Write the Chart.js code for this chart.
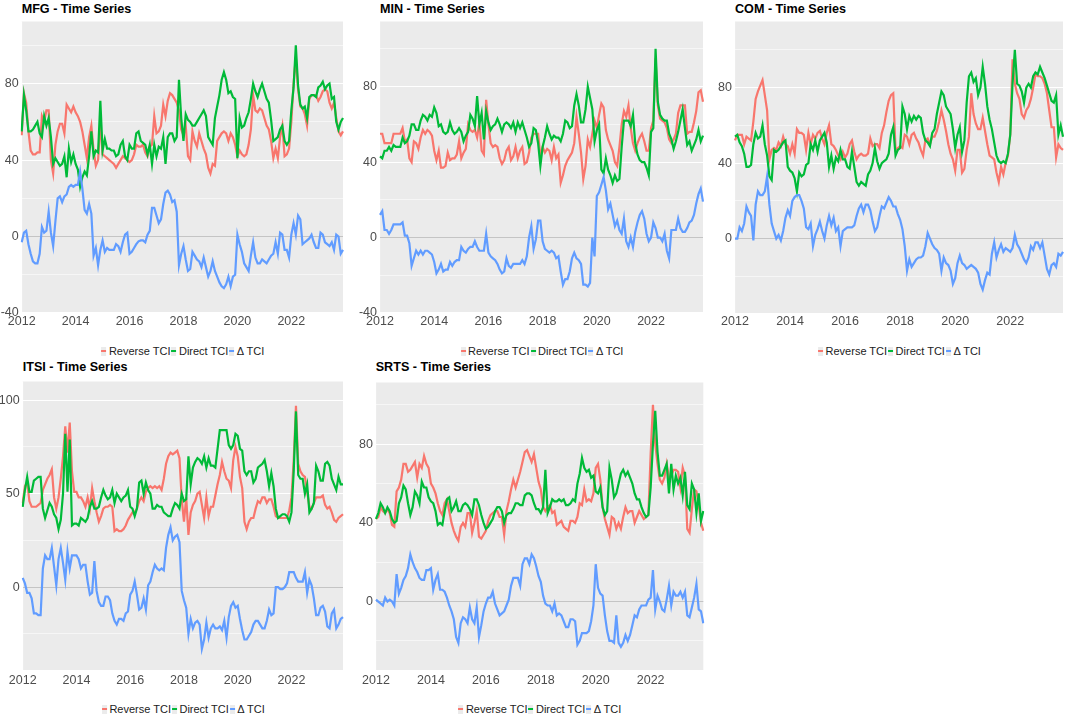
<!DOCTYPE html>
<html lang="en">
<head>
  <meta charset="UTF-8">
  <title>TCI Time Series</title>
  <script src="https://cdn.jsdelivr.net/npm/chart.js"></script>
  <style>
      body {
          margin: 0;
          background: #ffffff;
          font-family: "Liberation Sans", Arial, sans-serif;
      }
      #page { position: relative; width: 1065px; height: 717px; overflow: hidden; }
      .panel-title {
          position: absolute;
          font-size: 12.6px;
          font-weight: bold;
          line-height: 14px;
          color: #000;
          white-space: nowrap;
      }
      .chart-box { position: absolute; }
      .legend {
          position: absolute;
          display: flex;
          justify-content: center;
          align-items: center;
          font-size: 11px;
          color: #222;
          white-space: nowrap;
          transform: translate(-50%, -50%);
      }
      .legend .key {
          display: inline-block;
          width: 5px;
          height: 9px;
          background: #EBEBEB;
          position: relative;
          margin-right: 2.5px;
          margin-left: 1px;
      }
      .legend .key i {
          position: absolute;
          left: 0; right: 0; top: 3.5px;
          height: 2px;
      }
  </style>
</head>
<body>
<div id="page"></div>
<script>
  // months 2012-01 .. 2023-12
  var years = [2012, 2013, 2014, 2015, 2016, 2017, 2018, 2019, 2020, 2021, 2022, 2023];
  var monthNums = ['01','02','03','04','05','06','07','08','09','10','11','12'];
  var months = years.flatMap(y => monthNums.map(m => y + '-' + m));

  var seriesNames = ['Reverse TCI', 'Direct TCI', '\u0394 TCI'];
  var seriesColors = ['#F8766D', '#00BA38', '#619CFF'];

  // ---- MFG ----
  var mfgReverse = [
    53,75,70,55,45,43,43,44,44,63,60,66,
    66,40,33,48,55,59,59,54,69,67,65,68,
    65,63,60,55,48,41,52,58,45,37,40,60,
    43,42,41,40,39,38,36,38,40,42,41,40,
    39,40,43,48,47,47,48,44,42,47,48,63,
    54,55,58,69,63,71,75,74,72,70,66,56,
    53,58,42,40,55,50,47,54,50,46,43,36,
    33,38,37,50,52,54,55,54,50,54,52,48,
    42,45,43,42,43,48,56,74,66,65,67,66,
    62,58,56,50,41,46,41,52,58,42,43,46,
    60,80,94,77,68,67,64,58,72,74,74,74,
    71,73,76,77,76,70,67,70,62,55,53,55
  ];
  var mfgDirect = [
    55,74,66,55,55,56,58,60,54,52,63,58,
    62,52,38,41,39,37,38,42,31,46,39,43,
    38,35,26,31,34,32,42,55,42,45,44,71,
    45,51,46,46,45,45,42,43,48,50,42,40,
    48,46,46,54,55,50,49,48,43,48,38,48,
    42,47,46,52,38,52,54,54,50,52,82,62,
    50,64,61,60,58,58,60,62,64,66,63,52,
    50,48,62,68,74,82,86,82,75,76,73,72,
    41,62,57,58,62,65,72,80,76,73,77,80,
    76,72,70,61,50,51,52,56,58,50,48,50,
    66,78,100,79,69,67,68,62,73,74,74,73,
    78,79,81,77,79,80,72,73,60,56,60,62
  ];
  var mfgDelta = [
    -3,2,3,-4,-9,-13,-14,-14,-9,5,2,3,
    13,2,-5,8,20,21,18,21,22,26,27,26,
    27,27,34,25,14,12,17,12,-10,-6,-15,-7,
    -2,-8,-6,-7,-7,-7,-4,-5,-8,-3,1,2,
    -9,-8,-6,-4,-2.5,-2,-2,-3,1,3,15,15,
    11,7,9,17,23,24,22,18,19,13,-15,-9,
    -5,-12,-18,-17,-8,-10,-12,-13,-16,-11,-16,-21,
    -18,-13,-18,-21,-24,-26,-27,-25,-21,-26,-21,-20,
    1,-4,-8,-14,-16,-18,-10,-3,-11,-14,-14,-12,
    -13,-14,-12,-10,-9,-3,-9,2,1,-7,-7,-11,
    1,7,1,11,9,-4,-3,-2,-1,1,-3,-6,
    -6,2,1,-3,-4,-5,-3,-7,1,0,-9,-7
  ];

  // ---- MIN ----
  var minReverse = [
    55,55,50,50,50,50,55,55,55,55,58,51,
    52,42,40,51,50,47,53,57,55,57,56,54,
    46,41,46,37,37,38,45,41,42,42,44,51,
    42,45,47,60,57,56,57,53,61,46,44,73,
    60,50,48,49,48,42,39,41,46,48,41,43,
    48,42,46,48,39,40,45,53,55,55,55,43,
    48,45,47,46,41,48,42,44,29,33,38,41,
    43,45,50,64,55,45,31,38,52,48,55,62,
    58,65,71,69,57,52,49,46,40,38,48,60,
    67,64,70,58,50,46,50,53,55,51,46,46,
    58,62,95,70,63,62,61,58,52,50,52,55,
    66,70,70,70,55,56,56,61,67,77,78,72
  ];
  var minDirect = [
    43,42,46,46,48,46,49,48,48,48,53,50,
    51,54,60,60,57,57,62,65,64,62,65,64,
    69,66,59,60,56,55,56,61,57,55,56,58,
    56,51,54,56,65,63,59,75,60,66,52,67,
    61,57,59,60,63,60,56,60,61,60,58,61,
    56,61,58,61,57,53,48,50,58,57,50,38,
    48,53,59,55,52,54,53,53,51,55,62,61,
    58,59,70,76,70,61,61,68,80,74,68,51,
    57,60,36,34,42,36,33,29,33,30,31,48,
    62,62,62,59,65,50,44,41,40,40,37,33,
    56,58,100,72,65,63,62,62,55,52,47,51,
    56,62,68,58,49,51,46,49,52,57,51,54
  ];
  var minDelta = [
    12,14,4,4,2,4,7,7,7,7,8,1,
    1,-3,-15,-11,-7,-9,-7,-9,-7,-7,-8,-9,
    -13,-19,-17,-14,-18,-17,-17,-13,-15,-13,-12,-12,
    -5,-7,-8,-6,-5,-5,-2,-5,-7,-7,-7,2,
    -8,-10,-11,-12,-14,-17,-19,-18,-11,-15,-16,-14,
    -14,-14,-14,-12,-14,-10,0,6,-6,-1,9,9,
    -2,-6,-7,-8,-7,-8,-11,-10,-18,-25,-22,-22,
    -18,-11,-8,-11,-12,-14,-25,-25,-26,-24,0,-10,
    22,24,28,32,25,15,18,12,6,9,4,2,
    10,-2,-5,0,-5,3,8,12,14,10,2,-2,
    0,8,5,0,0,-2,2,-7,-11,4,4,4,
    10,5,3,3,5,8,9,12,18,23,26,19
  ];

  // ---- COM ----
  var comReverse = [
    52,55,55,55,50,54,53,52,62,74,78,81,
    84,76,68,42,47,48,47,51,49,54,50,49,
    45,50,45,58,56,56,55,47,56,50,55,53,
    56,57,53,50,56,60,50,49,47,44,42,46,
    43,45,50,52,46,42,44,45,44,44,45,53,
    49,50,50,48,56,60,67,73,76,77,47,48,
    49,48,55,54,50,55,56,53,51,47,44,52,
    53,50,54,54,57,62,68,63,57,50,45,42,
    36,47,47,35,37,47,54,77,66,61,58,58,
    64,57,50,44,43,42,35,30,38,34,40,44,
    55,95,82,77,74,66,64,68,70,74,80,87,
    86,86,85,82,77,68,59,59,43,50,48,47
  ];
  var comDirect = [
    54,55,51,49,45,38,38,39,50,56,53,54,
    60,50,44,33,31,47,46,47,49,51,52,38,
    36,35,32,25,35,33,34,39,40,50,47,52,
    46,52,54,56,51,38,44,37,43,41,47,42,
    42,38,37,46,38,30,28,30,29,28,34,36,
    40,48,41,37,40,41,42,45,55,59,44,47,
    48,70,66,58,65,62,65,63,65,64,56,52,
    51,49,56,58,66,72,78,76,70,68,66,58,
    48,55,59,46,52,72,86,88,83,85,76,80,
    91,82,70,63,58,51,44,41,40,41,40,45,
    55,82,100,82,81,78,72,80,82,80,86,88,
    87,91,88,85,81,77,73,72,76,55,60,54
  ];
  var comDelta = [
    0,0,6,4,8,17,14,12,-1,18,25,23,
    23,25,33,18,8,4,0,2,-1,4,11,15,
    12,20,22,23,23,20,16,6,5,8,-4,2,
    5,9,4,0,7,12,7,11,4,6,-4,4,
    5,6,6,6,7,12,16,18,14,18,18,15,
    9,4,6,12,17,16,19,22,20,17,17,13,
    10,5,-4,-17,-11,-15,-13,-11,-10,-10,-9,-4,
    3,0,-3,-5,-6,-8,-17,-10,-13,-14,-17,-24,
    -21,-13,-9,-13,-14,-16,-15,-14,-15,-16,-18,-24,
    -27,-22,-18,-19,-8,-2,-10,-6,-3,-7,-5,-6,
    -7,-5,2,-3,-5,-8,-11,-13,-10,-4,-6,-2,
    -2,-5,-2,-9,-16,-19,-14,-13,-15,-8,-9,-7
  ];

  // ---- ITSI ----
  var itsiReverse = [
    45,54,56,46,43,43,43,44,45,52,55,58,
    60,63,48,42,48,58,70,86,72,88,62,51,
    51,48,48,46,43,48,42,53,46,40,35,38,
    42,43,43,44,43,30,31,30,30,31,33,36,
    38,40,40,42,46,48,46,51,53,54,53,54,
    53,54,52,58,66,70,72,71,72,73,69,47,
    35,48,28,40,44,46,50,51,44,37,48,38,
    43,43,49,55,60,67,62,58,57,53,68,75,
    70,59,53,35,31,35,37,37,42,46,45,48,
    48,45,47,47,43,38,37,37,37,37,37,41,
    48,68,97,66,62,60,59,51,43,42,45,48,
    48,48,49,44,42,43,40,36,35,37,38,39
  ];
  var itsiDirect = [
    43,52,59,51,51,57,58,59,59,42,37,41,
    45,43,39,37,31,36,50,82,51,79,33,34,
    34,33,37,36,35,37,43,46,42,42,43,48,
    52,49,47,48,52,45,50,48,46,48,49,52,
    43,42,38,42,56,57,50,56,52,50,42,42,
    44,43,43,40,39,38,38,42,45,44,42,50,
    46,47,70,55,64,67,69,68,66,70,64,69,
    65,65,64,74,84,84,84,84,76,74,76,82,
    81,74,73,62,60,62,62,56,58,64,65,66,
    68,62,54,61,54,42,37,38,39,39,38,35,
    40,62,94,60,58,58,50,55,40,42,45,65,
    62,57,57,66,67,65,58,55,52,59,55,55
  ];
  var itsiDelta = [
    5,2,-3,-3,-6,-14,-14,-15,-15,10,17,15,
    15,21,11,1,15,21,13,4,19,10,17,17,
    17,15,10,12,12,3,-4,-3,14,-2,-8,-10,
    -10,-5,-5,-7,-14,-18,-20,-17,-17,-18,-14,-13,
    -4,-2,3,-4,-12,-11,-6,-12,1,3,8,12,
    10,9,10,9,21,28,32,25,27,28,24,-2,
    -7,-11,-25,-17,-22,-19,-18,-20,-33,-28,-19,-27,
    -22,-20,-22,-22,-21,-23,-18,-27,-16,-10,-8,-11,
    -10,-17,-23,-28,-28,-26,-24,-20,-18,-18,-20,-22,
    -22,-18,-12,-15,-14,0,0,-1,-1,0,2,8,
    8,8,5,3,3,3,8,-3,4,1,-6,-15,
    -15,-11,-10,-13,-21,-22,-14,-12,-22,-20,-17,-16
  ];

  // ---- SRTS ----
  var srtsReverse = [
    42,43,48,46,45,47,45,39,38,56,58,62,
    70,70,66,67,69,71,63,70,68,74,70,68,
    60,58,55,50,46,44,50,52,46,40,36,33,
    31,38,40,38,45,45,35,40,46,33,32,34,
    36,41,44,45,46,46,43,43,34,46,51,57,
    62,58,62,66,71,76,77,74,71,75,68,61,
    57,48,46,48,49,45,46,39,40,41,38,37,
    36,41,41,40,43,50,49,57,51,52,51,55,
    68,70,62,48,42,38,34,43,42,37,40,37,
    43,48,45,46,46,40,43,46,44,42,43,44,
    75,100,80,70,62,60,63,70,63,64,67,67,
    66,58,68,64,37,35,47,57,56,49,40,36
  ];
  var srtsDirect = [
    42,45,50,48,45,48,46,42,40,41,50,53,
    59,57,50,44,48,56,54,50,61,58,58,53,
    51,50,46,39,40,39,46,52,53,46,48,51,
    46,46,49,50,49,47,44,52,52,49,44,40,
    37,38,40,42,46,48,48,46,40,44,45,45,
    47,50,50,49,49,54,55,55,54,50,47,47,
    45,48,67,45,48,52,51,51,52,51,52,49,
    49,50,52,51,60,65,73,68,66,67,63,64,
    56,55,58,48,44,46,68,62,53,55,60,65,
    67,64,66,63,60,55,52,52,48,45,43,44,
    58,80,97,76,64,64,67,70,55,70,57,64,
    60,63,54,66,49,47,60,57,45,55,41,46
  ];
  var srtsDelta = [
    1,0,-1,-2,2,0,1,0,-2,14,4,7,
    11,13,17,24,20,17,15,12,11,11,16,16,
    17,6,11,14,6,6,5,2,-2,-5,-9,-18,
    -21,-11,-8,-9,-11,-3,-9,-11,-3,-18,-12,-5,
    -1,2,2,5,-1,-4,-7,-6,-5,-2,1,8,
    12,12,12,8,19,22,22,19,24,22,18,13,
    10,3,-1,-2,-2,-5,-1,-7,-6,-7,-10,-13,
    -13,-9,-9,-10,-22,-20,-16,-16,-16,-15,-10,-2,
    19,7,4,3,-7,-15,-20,-20,-21,-7,-21,-23,
    -21,-17,-20,-17,-12,-7,-8,-4,-2,-2,-2,1,
    2,16,-4,3,0,-4,-5,1,8,-2,5,3,
    3,5,2,5,-7,-8,-3,2,9,-4,-5,-11
  ];

  // panel layout (plot area in page pixels) and y ranges
  var panels = [
    { title: 'MFG - Time Series', data: [mfgReverse, mfgDirect, mfgDelta],
      left: 0, yW: 21.7, plotR: 343, top: 15, bottom: 313, titleTop: 2, legendY: 351,
      yMin: -40, yMax: 112.5, step: 20, major: 40, xPad: 1 },
    { title: 'MIN - Time Series', data: [minReverse, minDirect, minDelta],
      left: 358, yW: 22, plotR: 703, top: 15, bottom: 313, titleTop: 2, legendY: 351,
      yMin: -40, yMax: 114.5, step: 20, major: 40, xPad: 1 },
    { title: 'COM - Time Series', data: [comReverse, comDirect, comDelta],
      left: 713, yW: 22, plotR: 1063, top: 15, bottom: 313, titleTop: 2, legendY: 351,
      yMin: -39.4, yMax: 115, step: 20, major: 40, xPad: 1 },
    { title: 'ITSI - Time Series', data: [itsiReverse, itsiDirect, itsiDelta],
      left: 0, yW: 22.7, plotR: 343, top: 375, bottom: 670, titleTop: 360, legendY: 709,
      yMin: -44.3, yMax: 110, step: 25, major: 50, xPad: 3 },
    { title: 'SRTS - Time Series', data: [srtsReverse, srtsDirect, srtsDelta],
      left: 353.7, yW: 22, plotR: 703, top: 376, bottom: 670, titleTop: 360, legendY: 709,
      yMin: -34.8, yMax: 111.4, step: 20, major: 40, xPad: 3 }
  ];

  Chart.defaults.font.family = '"Liberation Sans", Arial, sans-serif';

  // grey panel background like ggplot's theme_gray
  var panelBg = {
      id: 'panelBg',
      beforeDraw: (chart) => {
          const { ctx, chartArea: a } = chart;
          ctx.save();
          ctx.fillStyle = '#EBEBEB';
          ctx.fillRect(a.left, a.top, a.right - a.left, a.bottom - a.top);
          ctx.restore();
      }
  };

  var page = document.getElementById('page');
  var padTop = 4, padRight = 2, xH = 22;

  panels.forEach(function (p) {
      var plotL = p.left + p.yW;

      var t = document.createElement('div');
      t.className = 'panel-title';
      t.style.left = plotL + 'px';
      t.style.top = p.titleTop + 'px';
      t.textContent = p.title;
      page.appendChild(t);

      var box = document.createElement('div');
      box.className = 'chart-box';
      box.style.left = p.left + 'px';
      box.style.top = (p.top - padTop) + 'px';
      box.style.width = (p.plotR - p.left + padRight) + 'px';
      box.style.height = (padTop + (p.bottom - p.top) + xH) + 'px';
      var canvas = document.createElement('canvas');
      box.appendChild(canvas);
      page.appendChild(box);

      new Chart(canvas.getContext('2d'), {
          type: 'line',
          data: {
              labels: months,
              datasets: p.data.map(function (vals, k) {
                  return {
                      label: seriesNames[k],
                      data: vals,
                      borderColor: seriesColors[k],
                      borderWidth: 2.2,
                      pointRadius: 0,
                      tension: 0,
                      fill: false,
                      order: 3 - k
                  };
              })
          },
          options: {
              responsive: true,
              maintainAspectRatio: false,
              animation: false,
              layout: { padding: { top: padTop, right: padRight, left: 0, bottom: 0 } },
              plugins: {
                  legend: { display: false },
                  tooltip: { enabled: false }
              },
              scales: {
                  x: {
                      type: 'category',
                      offset: false,
                      afterFit: (s) => { s.height = xH; },
                      border: { display: false },
                      grid: {
                          drawTicks: false,
                          color: (c) => (c.index % 12 === 0 ? '#ffffff' : 'rgba(0,0,0,0)'),
                          lineWidth: (c) => (c.index % 24 === 0 ? 1.1 : 0.55)
                      },
                      ticks: {
                          autoSkip: false,
                          maxRotation: 0,
                          padding: p.xPad,
                          color: '#4D4D4D',
                          font: { size: 12.5 },
                          callback: function (value, index) {
                              if (index % 12 !== 0) return null;
                              return index % 24 === 0 ? this.getLabelForValue(value).slice(0, 4) : '';
                          }
                      }
                  },
                  y: {
                      min: p.yMin,
                      max: p.yMax,
                      afterFit: (s) => { s.width = p.yW; },
                      border: { display: false },
                      grid: {
                          drawTicks: false,
                          color: (c) => (c.tick && c.tick.value === 0 ? '#C4C4C4' : '#ffffff'),
                          lineWidth: (c) => (c.tick && c.tick.value % p.major === 0 ? 1.1 : 0.55)
                      },
                      ticks: {
                          stepSize: p.step,
                          includeBounds: false,
                          padding: 3,
                          color: '#4D4D4D',
                          font: { size: 12.5 },
                          callback: (v) => (v % p.major === 0 ? String(v) : '')
                      }
                  }
              }
          },
          plugins: [panelBg]
      });

      // legend under the panel, built from the same series names and colours
      var lg = document.createElement('div');
      lg.className = 'legend';
      lg.style.left = ((plotL + p.plotR) / 2) + 'px';
      lg.style.top = p.legendY + 'px';
      seriesNames.forEach(function (name, k) {
          var key = document.createElement('span');
          key.className = 'key';
          var bar = document.createElement('i');
          bar.style.background = seriesColors[k];
          key.appendChild(bar);
          lg.appendChild(key);
          var txt = document.createElement('span');
          txt.textContent = name;
          lg.appendChild(txt);
      });
      page.appendChild(lg);
  });
</script>
</body>
</html>
